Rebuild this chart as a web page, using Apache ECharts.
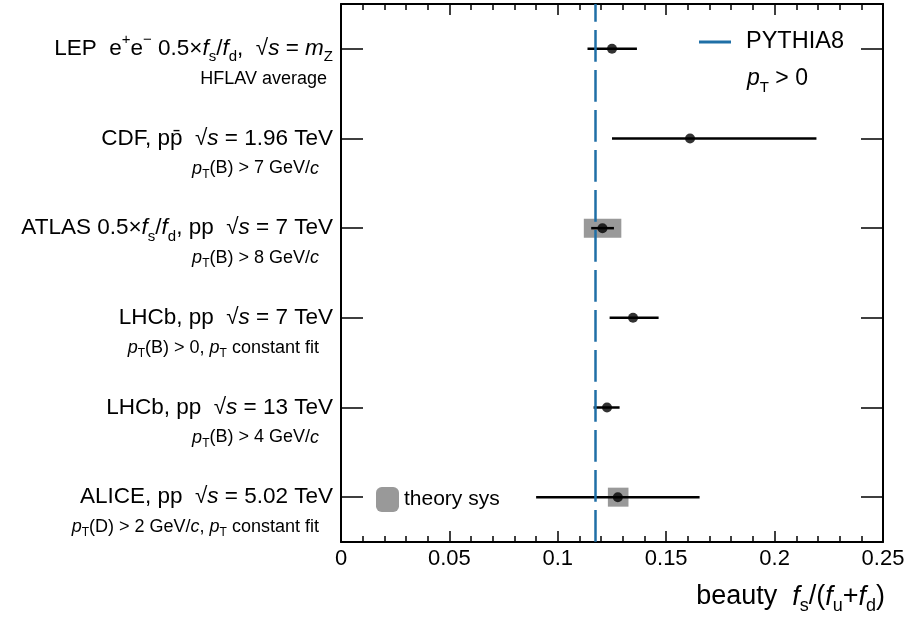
<!DOCTYPE html>
<html>
<head>
<meta charset="utf-8">
<script src="https://cdn.jsdelivr.net/npm/echarts@6/dist/echarts.min.js"></script>
<style>
html,body{margin:0;padding:0;background:#fff;}
#chart{width:909px;height:619px;}
</style>
</head>
<body>
<div id="chart"></div>
<script>
// ---- data ----
const categories = ['LEP', 'CDF', 'ATLAS', 'LHCb 7 TeV', 'LHCb 13 TeV', 'ALICE'];
const mainLabels = [
  '{n|LEP  e}{sup|+}{n|e}{sup|\u2212}{n| 0.5\u00d7}{i|f}{sub|s}{n|/}{i|f}{sub|d}{n|,  \u221a}{i|s}{n| = }{i|m}{sub|Z}',
  '{n|CDF, pp\u0304  \u221a}{i|s}{n| = 1.96 TeV}',
  '{n|ATLAS 0.5\u00d7}{i|f}{sub|s}{n|/}{i|f}{sub|d}{n|, pp  \u221a}{i|s}{n| = 7 TeV}',
  '{n|LHCb, pp  \u221a}{i|s}{n| = 7 TeV}',
  '{n|LHCb, pp  \u221a}{i|s}{n| = 13 TeV}',
  '{n|ALICE, pp  \u221a}{i|s}{n| = 5.02 TeV}'
];
const subLabels = [
  '{n|HFLAV average}',
  '{i|p}{s|T}{n|(B) > 7 GeV/}{i|c}',
  '{i|p}{s|T}{n|(B) > 8 GeV/}{i|c}',
  '{i|p}{s|T}{n|(B) > 0, }{i|p}{s|T}{n| constant fit}',
  '{i|p}{s|T}{n|(B) > 4 GeV/}{i|c}',
  '{i|p}{s|T}{n|(D) > 2 GeV/}{i|c}{n|, }{i|p}{s|T}{n| constant fit}'
];
const values  = [0.1250, 0.1610, 0.1206, 0.1347, 0.1227, 0.1277];
const errLow  = [0.1137, 0.1250, 0.1154, 0.1239, 0.1165, 0.0900];
const errHigh = [0.1365, 0.2193, 0.1259, 0.1465, 0.1285, 0.1654];
const sysLow  = [null, null, 0.1120, null, null, 0.1231];
const sysHigh = [null, null, 0.1293, null, null, 0.1326];
const pythia8 = 0.1173;
const xTicks = { min: 0, max: 0.25, interval: 0.05 };

// ---- styles ----
const FONT = 'Liberation Sans';
const BLUE = '#1f6fa6';
const GRAY = '#999999';

const mainRich = {
  n:   { fontFamily: FONT, fontSize: 22.5, lineHeight: 32, color: '#000' },
  i:   { fontFamily: FONT, fontSize: 22.5, lineHeight: 32, fontStyle: 'italic', color: '#000' },
  sub: { fontFamily: FONT, fontSize: 15, lineHeight: 15, verticalAlign: 'bottom', color: '#000' },
  sup: { fontFamily: FONT, fontSize: 15, lineHeight: 15, verticalAlign: 'top', color: '#000' }
};
const smallRich = {
  n: { fontFamily: FONT, fontSize: 18, lineHeight: 24, color: '#000' },
  i: { fontFamily: FONT, fontSize: 18, lineHeight: 24, fontStyle: 'italic', color: '#000' },
  s: { fontFamily: FONT, fontSize: 12, lineHeight: 12, verticalAlign: 'bottom', color: '#000' },
  g: { width: 8, lineHeight: 24 }
};
const titleRich = {
  n:   { fontFamily: FONT, fontSize: 27, lineHeight: 36, color: '#000' },
  i:   { fontFamily: FONT, fontSize: 27, lineHeight: 36, fontStyle: 'italic', color: '#000' },
  sub: { fontFamily: FONT, fontSize: 18, lineHeight: 18, verticalAlign: 'bottom', color: '#000' }
};

const chart = echarts.init(document.getElementById('chart'), null, { renderer: 'canvas' });

const axisLine = { show: true, lineStyle: { color: '#000', width: 2 } };

const xCommon = {
  type: 'value', min: xTicks.min, max: xTicks.max, interval: xTicks.interval,
  axisLine: axisLine,
  axisTick: { show: true, inside: true, length: 11, lineStyle: { color: '#000', width: 1.5 } },
  minorTick: { show: true, splitNumber: 5, length: 6, lineStyle: { color: '#000', width: 1.5 } },
  splitLine: { show: false }, minorSplitLine: { show: false }
};

const errData = values.map((v, i) => [errLow[i], errHigh[i], i]);
const sysData = [];
values.forEach((v, i) => { if (sysLow[i] != null) sysData.push([sysLow[i], sysHigh[i], i]); });
const ptData = values.map((v, i) => [v, i]);

chart.setOption({
  animation: false,
  backgroundColor: '#fff',
  grid: { left: 341, right: 26, top: 4, bottom: 77, containLabel: false },
  xAxis: [
    Object.assign({}, xCommon, {
      position: 'bottom',
      axisLabel: { show: true, fontFamily: FONT, fontSize: 22, color: '#000', margin: 6,
        formatter: v => String(+v.toFixed(2)) },
      name: '{n|beauty  }{i|f}{sub|s}{n|/(}{i|f}{sub|u}{n|+}{i|f}{sub|d}{n|)}',
      nameLocation: 'end', nameGap: 2,
      nameTextStyle: { align: 'right', verticalAlign: 'top', padding: [37, 0, 0, 0], rich: titleRich }
    }),
    Object.assign({}, xCommon, { position: 'top', axisLabel: { show: false } })
  ],
  yAxis: [
    {
      type: 'category', data: categories, inverse: true, position: 'left',
      axisLine: axisLine,
      axisTick: { show: true, inside: true, length: 22, alignWithLabel: true, interval: 0,
        lineStyle: { color: '#000', width: 1.5 } },
      axisLabel: { show: true, interval: 0, margin: 8, fontFamily: FONT, fontSize: 22.5, lineHeight: 32,
        formatter: (v, idx) => mainLabels[idx], rich: mainRich },
      splitLine: { show: false }
    },
    {
      type: 'category', data: categories, inverse: true, position: 'left',
      axisLine: { show: false }, axisTick: { show: false },
      axisLabel: { show: true, interval: 0, margin: 14, fontFamily: FONT, fontSize: 18, lineHeight: 24,
        padding: [60, 0, 0, 0],
        formatter: (v, idx) => subLabels[idx] + (idx === 0 ? '' : '{g|}'), rich: smallRich },
      splitLine: { show: false }
    },
    {
      type: 'category', data: categories, inverse: true, position: 'right',
      axisLine: axisLine,
      axisTick: { show: true, inside: true, length: 22, alignWithLabel: true, interval: 0,
        lineStyle: { color: '#000', width: 1.5 } },
      axisLabel: { show: false },
      splitLine: { show: false }
    }
  ],
  legend: [
    {
      data: ['PYTHIA8'], left: 699, top: 30, padding: 0, selectedMode: false,
      icon: 'rect', itemWidth: 32, itemHeight: 3,
      formatter: name => '{g|}{t|' + name + '}',
      textStyle: { fontFamily: FONT, fontSize: 23, color: '#000',
        rich: { g: { width: 10 }, t: { fontFamily: FONT, fontSize: 23.5, color: '#000' } } }
    },
    {
      data: ['theory sys'], left: 376, top: 487, padding: 0, selectedMode: false,
      icon: 'roundRect', itemWidth: 23, itemHeight: 25,
      textStyle: { fontFamily: FONT, fontSize: 21, color: '#000' }
    }
  ],
  graphic: [
    {
      type: 'text', x: 747, y: 79,
      style: { text: '{i|p}{sub|T}{n| > 0}', align: 'left', verticalAlign: 'middle',
        rich: {
          n:   { fontFamily: FONT, fontSize: 23, lineHeight: 32, color: '#000' },
          i:   { fontFamily: FONT, fontSize: 23, lineHeight: 32, fontStyle: 'italic', color: '#000' },
          sub: { fontFamily: FONT, fontSize: 15, lineHeight: 15, verticalAlign: 'bottom', color: '#000' }
        } }
    }
  ],
  series: [
    {
      name: 'PYTHIA8', type: 'line', data: [], xAxisIndex: 0, yAxisIndex: 0,
      color: BLUE, itemStyle: { color: BLUE }, lineStyle: { color: BLUE },
      markLine: {
        silent: true, symbol: 'none', label: { show: false }, precision: 6,
        lineStyle: { color: BLUE, width: 2.5, type: [31.7, 8.3], dashOffset: 14 },
        data: [{ xAxis: pythia8 }]
      }
    },
    {
      name: 'theory sys', type: 'custom', xAxisIndex: 0, yAxisIndex: 0,
      itemStyle: { color: GRAY }, color: GRAY,
      encode: { x: [0, 1], y: 2 },
      data: sysData,
      renderItem: function (params, api) {
        const p1 = api.coord([api.value(0), api.value(2)]);
        const p2 = api.coord([api.value(1), api.value(2)]);
        return { type: 'rect', shape: { x: p1[0], y: p1[1] - 9.5, width: p2[0] - p1[0], height: 19 },
          style: { fill: GRAY } };
      },
      z: 2
    },
    {
      name: 'stat', type: 'custom', xAxisIndex: 0, yAxisIndex: 0,
      encode: { x: [0, 1], y: 2 },
      data: errData,
      renderItem: function (params, api) {
        const p1 = api.coord([api.value(0), api.value(2)]);
        const p2 = api.coord([api.value(1), api.value(2)]);
        return { type: 'line', shape: { x1: p1[0], y1: p1[1], x2: p2[0], y2: p2[1] },
          style: { stroke: '#000', lineWidth: 2.5 } };
      },
      z: 3
    },
    {
      name: 'value', type: 'scatter', xAxisIndex: 0, yAxisIndex: 0,
      data: ptData, symbol: 'circle', symbolSize: 10,
      itemStyle: { color: '#000' }, z: 4
    }
  ]
});
</script>
</body>
</html>
